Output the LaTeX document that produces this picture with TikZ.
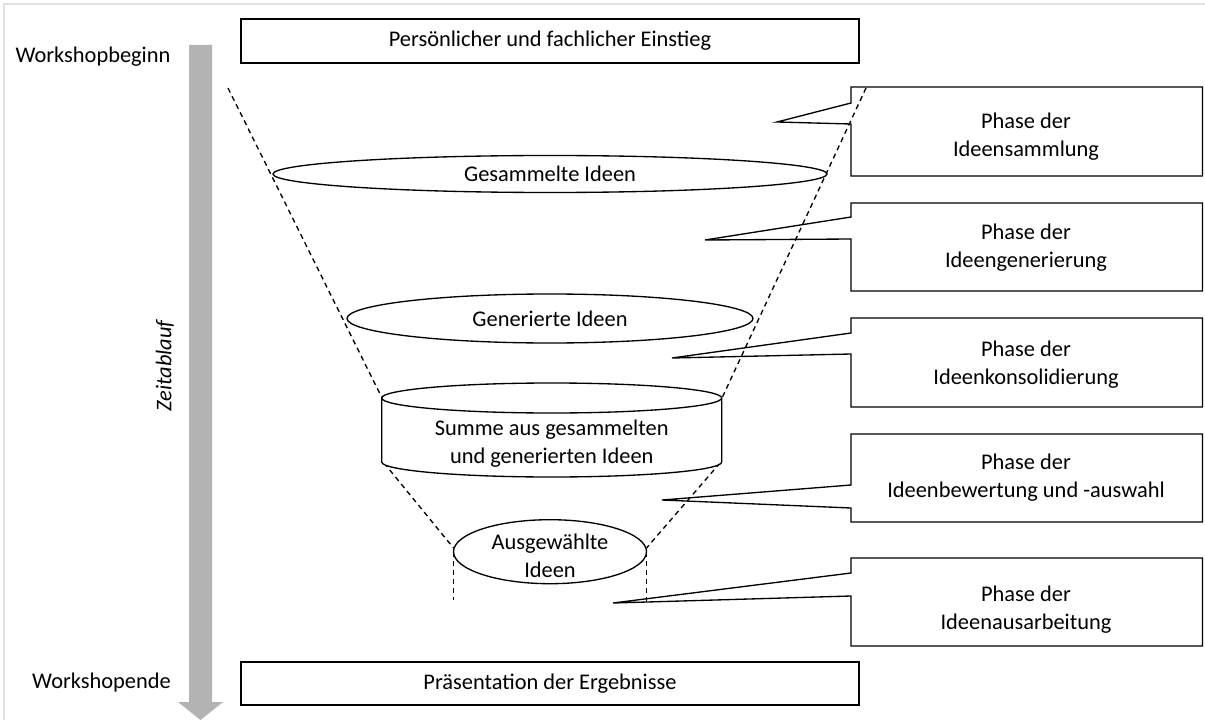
\documentclass[tikz,border=0pt]{standalone}
\usepackage{fontspec}
\setmainfont{Carlito}
\tikzset{every picture/.style={line width=1pt}}

\begin{document}
\begin{tikzpicture}[x=0.75pt,y=0.75pt,yscale=-1,xscale=1,
		font=\fontsize{16.8}{21}\selectfont,
		funnel/.style={dash pattern=on 3.8pt off 3pt},
		phase/.style={align=center}]
		\useasboundingbox (0,0) rectangle (1205,720);

		%Frame
		\draw [color={rgb, 255:red, 224; green, 224; blue, 224 }, line width=1.5] (4,720) -- (4,4) -- (1205,4) ;
		%Shape: Down Arrow [id:timeline]
		\fill [color={rgb, 255:red, 179; green, 179; blue, 179 }] (189,45) -- (212,45) -- (212,702) -- (223,702) -- (200.5,720) -- (178,702) -- (189,702) -- cycle ;

		%Shape: Rectangle [id:start]
		\draw   (241,19) rectangle (859,63) ;
		%Shape: Rectangle [id:end]
		\draw   (241,662) rectangle (859,705) ;

		%Dashed Lines [id:funnel]
		\draw [funnel]   (228,88) -- (382,398) ;
		\draw [funnel]   (866,88) -- (722,398) ;
		\draw [funnel]   (384,463) -- (453.5,548) ;
		\draw [funnel]   (720,463) -- (646.5,548) ;
		\draw [funnel]   (453.5,552) -- (453.5,600) ;
		\draw [funnel]   (646.5,552) -- (646.5,604) ;

		%Shape: Ellipse [id:gesammelt]
		\draw [fill=white]  (550,174) ellipse [x radius=277, y radius=18.5] ;
		%Shape: Ellipse [id:generiert]
		\draw [fill=white]  (550,318.5) ellipse [x radius=203, y radius=24.5] ;
		%Shape: Can [id:summe]
		\draw [fill=white]  (381.7,398) -- (381.7,462) arc [start angle=180, end angle=0, x radius=170, y radius=15] -- (721.7,398) ;
		\draw [fill=white]  (551.7,398) ellipse [x radius=170, y radius=15] ;
		%Shape: Ellipse [id:auswahl]
		\draw [fill=white]  (550,551.7) ellipse [x radius=96.5, y radius=32] ;

		%Shape: Callout [id:phase1]
		\draw   (851,87) -- (1202.5,87) -- (1202.5,176) -- (851,176) -- (851,124) -- (777,122) -- (851,103) -- cycle ;
		%Shape: Callout [id:phase2]
		\draw   (851,203) -- (1202.5,203) -- (1202.5,291) -- (851,291) -- (851,239) -- (705,240) -- (851,217) -- cycle ;
		%Shape: Callout [id:phase3]
		\draw   (851,318) -- (1202.5,318) -- (1202.5,407) -- (851,407) -- (851,354) -- (672,358) -- (851,333) -- cycle ;
		%Shape: Callout [id:phase4]
		\draw   (851,434) -- (1202.5,434) -- (1202.5,522) -- (851,522) -- (851,508) -- (662,500) -- (851,485) -- cycle ;
		%Shape: Callout [id:phase5]
		\draw   (851,558) -- (1202.5,558) -- (1202.5,646) -- (851,646) -- (851,596) -- (613,603) -- (851,573) -- cycle ;

		% Text Node
		\draw (93,57) node (beginn) {Workshopbeginn};
		% Text Node
		\draw (101.5,683) node (ende) {Workshopende};
		% Text Node
		\draw (165,366) node [rotate=90] (zeit) {\itshape Zeitablauf};
		% Text Node
		\draw (550,41) node (einstieg) {Persönlicher und fachlicher Einstieg};
		% Text Node
		\draw (550,683.5) node (praes) {Präsentation der Ergebnisse};
		% Text Node
		\draw (550,174) node (gesammelt) {Gesammelte Ideen};
		% Text Node
		\draw (550,318.5) node (generiert) {Generierte Ideen};
		% Text Node
		\draw (551.7,444) node [phase] (summe) {Summe aus gesammelten\\und generierten Ideen};
		% Text Node
		\draw (550,556) node [phase] (auswahl) {Ausgewählte\\Ideen};
		% Text Node
		\draw (1026,136.5) node [phase] (ph1) {Phase der\\Ideensammlung};
		% Text Node
		\draw (1026,248) node [phase] (ph2) {Phase der\\Ideengenerierung};
		% Text Node
		\draw (1026,365) node [phase] (ph3) {Phase der\\Ideenkonsolidierung};
		% Text Node
		\draw (1026,477.5) node [phase] (ph4) {Phase der\\Ideenbewertung und -auswahl};
		% Text Node
		\draw (1026,610) node [phase] (ph5) {Phase der\\Ideenausarbeitung};

\end{tikzpicture}
\end{document}
